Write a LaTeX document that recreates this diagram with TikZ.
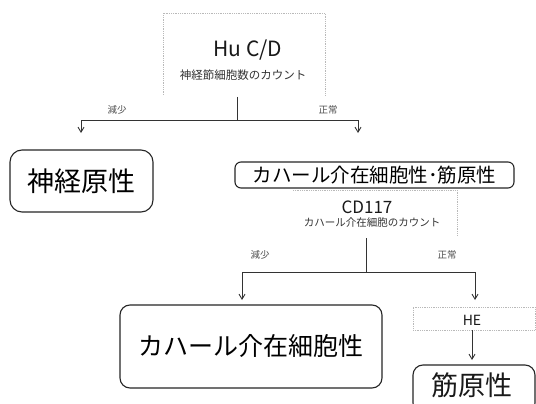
\documentclass[tikz,border=0pt]{standalone}
\usepackage{fontspec}
\setmainfont{Noto Sans CJK JP}
\usetikzlibrary{arrows.meta}
\tikzset{
  faint/.style={draw=gray!55, densely dotted, line width=0.8pt},
  rbox/.style={draw=black!85, line width=1.1pt, rounded corners=10pt, inner sep=0pt},
  conn/.style={draw=black!80, line width=0.9pt},
  arr/.style={conn, -{Straight Barb[length=5pt,width=6pt]}},
  lbl/.style={text=black!70, font=\fontsize{9.5}{10}\selectfont, inner sep=0pt},
  sub/.style={text=black!80, inner sep=0pt},
  txt/.style={text=black!90, inner sep=0pt}
}
\begin{document}
\begin{tikzpicture}[x=1pt,y=-1pt]
\useasboundingbox (0,0) rectangle (536,404);
\fill[white] (0,0) rectangle (536,404);
\clip (0,0) rectangle (536,404);

% top faint box (three sides)
\draw[faint] (163,95) -- (163,13) -- (325,13) -- (325,95);
\node[txt, font=\fontsize{21}{24}\selectfont] (hu) at (248,50) {Hu C/D};
\node[sub, font=\fontsize{11.5}{12}\selectfont] (husub) at (243,75) {神経節細胞数のカウント};

\coordinate (hustem) at (237,97);
\coordinate (j1) at (237,120);
\coordinate (a1) at (81,133);
\coordinate (a2) at (358,133);
\draw[conn] (hustem) -- (j1);
\draw[arr] (j1) -| (a1);
\draw[arr] (j1) -| (a2);
\node[lbl] (l1) at (117,110) {減少};
\node[lbl] (l2) at (328,110) {正常};

% left box
\node[rbox, rounded corners=12pt, minimum width=143pt, minimum height=62pt,
      font=\fontsize{27}{30}\selectfont] (neuro) at (81.5,181) {神経原性};
% right box
\node[rbox, rounded corners=6pt, minimum width=279pt, minimum height=26pt,
      font=\fontsize{19.5}{22}\selectfont] (icc) at (374.5,175) {カハール介在細胞性･筋原性};

% CD117 faint box (top and right)
\draw[faint] (293,190) -- (457,190) -- (457,235);
\node[txt, font=\fontsize{17}{20}\selectfont] (cd) at (367,207) {CD117};
\node[sub, font=\fontsize{10.5}{12}\selectfont] (cdsub) at (372,223) {カハール介在細胞のカウント};

\coordinate (cdstem) at (366,238);
\coordinate (j2) at (366,272);
\coordinate (b1) at (242,300);
\coordinate (b2) at (475,300);
\draw[conn] (cdstem) -- (j2);
\draw[arr] (j2) -| (b1);
\draw[arr] (j2) -| (b2);
\node[lbl] (l3) at (260,255) {減少};
\node[lbl] (l4) at (447,255) {正常};

% bottom-left box
\node[rbox, minimum width=262pt, minimum height=83pt,
      font=\fontsize{25}{28}\selectfont] (iccb) at (251,346.5) {カハール介在細胞性};

% HE box
\node[faint, minimum width=122pt, minimum height=23pt, inner sep=0pt] (hebox) at (474,318.5) {};
\node[txt, font=\fontsize{14}{16}\selectfont] (he) at (472,320) {HE};
\coordinate (c1) at (472,360);
\draw[arr] (hebox.south -| he) -- (c1);

% myogenic box
\node[rbox, minimum width=122pt, minimum height=48pt] (myo) at (474,389) {};
\node[txt, font=\fontsize{27}{30}\selectfont] (myot) at (472,385) {筋原性};
\end{tikzpicture}
\end{document}
